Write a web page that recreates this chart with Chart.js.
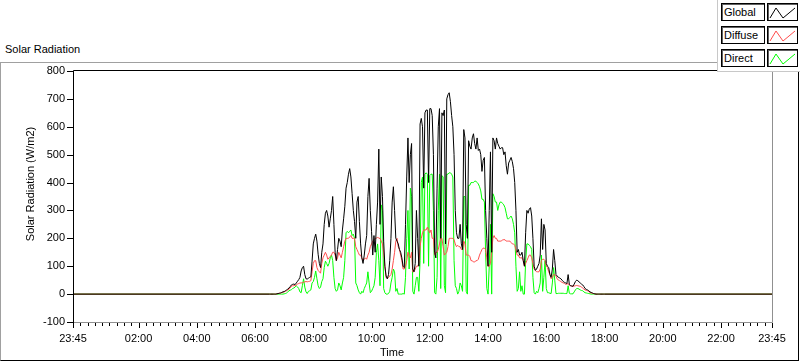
<!DOCTYPE html>
<html>
<head>
<meta charset="utf-8">
<title>Solar Radiation</title>
<script src="https://cdn.jsdelivr.net/npm/chart.js@4.4.1/dist/chart.umd.min.js"></script>
<style>
  html, body { margin: 0; padding: 0; background: #fff; }
  body { width: 800px; height: 361px; position: relative; overflow: hidden;
         font: 11px "Liberation Sans", Arial, sans-serif; color: #000; }
  #frame { position: absolute; left: 0; top: 62px; width: 797px; height: 297px;
           border-top: 1px solid #a0a0a0; border-left: 1px solid #a0a0a0;
           border-right: 1px solid #000; border-bottom: 1px solid #000; }
  #caption { position: absolute; left: 5px; top: 43px; white-space: nowrap; }
  #chart { position: absolute; left: 0; top: 0; }
  #legend { position: absolute; left: 717px; top: 0; width: 83px; height: 71px; background: #fff;
            border-left: 1px solid #c8c8c8; border-bottom: 1px solid #c8c8c8; }
  .name, .icon { position: absolute; height: 16px; border: 1px solid #000; background: #fff;
                 box-shadow: inset 1px 1px 0 #606060; box-sizing: content-box; }
  .name { left: 3px; width: 40px; line-height: 16px; padding-left: 2px; }
  .icon { left: 49px; width: 29px; }
  .icon svg { display: block; }
</style>
</head>
<body>
<div id="frame"></div>
<div id="caption">Solar Radiation</div>
<canvas id="chart" width="800" height="361"></canvas>
<div id="legend"></div>
<script>
const FONT = '"Liberation Sans", Arial, sans-serif';

// readings every 2.5 minutes from 06:30 to 18:00 (W/m2), night is 0
const sampleStart = 6.5;
const sampleStep = 2.5;

const globalRad = [
  0, 0, 0, 0, 0, 0, 1, 2, 3, 4,
  6, 8, 9, 12, 15, 18, 22, 27, 33, 35,
  36, 34, 40, 46, 52, 60, 83, 95, 100, 70,
  55, 54, 57, 60, 62, 118, 180, 200, 215, 190,
  143, 110, 95, 150, 180, 250, 290, 300, 280, 240,
  270, 300, 350, 250, 150, 120, 160, 200, 190, 170,
  230, 270, 315, 380, 400, 430, 450, 420, 360, 300,
  260, 200, 330, 350, 260, 180, 130, 110, 140, 180,
  210, 350, 415, 300, 225, 140, 210, 150, 250, 330,
  520, 250, 420, 350, 190, 100, 65, 55, 70, 120,
  200, 330, 385, 300, 200, 190, 180, 160, 150, 130,
  100, 95, 250, 420, 560, 400, 500, 540, 90, 80,
  110, 300, 200, 100, 610, 630, 600, 380, 650, 660,
  660, 400, 665, 665, 640, 500, 150, 130, 380, 600,
  665, 200, 650, 640, 660, 180, 700, 715, 722, 690,
  640, 600, 500, 300, 220, 200, 200, 250, 180, 160,
  590, 560, 250, 200, 550, 530, 520, 560, 575, 540,
  520, 560, 515, 520, 500, 440, 480, 490, 300, 200,
  100, 300, 510, 150, 560, 550, 520, 560, 540, 530,
  520, 525, 525, 500, 510, 460, 430, 470, 480, 490,
  475, 450, 400, 300, 150, 160, 140, 140, 150, 120,
  100, 220, 300, 290, 305, 310, 280, 200, 100, 85,
  90, 100, 110, 140, 270, 160, 250, 230, 110, 100,
  95, 70, 60, 90, 160, 120, 70, 65, 60, 58,
  55, 50, 45, 42, 40, 38, 70, 35, 30, 29,
  28, 36, 45, 50, 48, 44, 40, 36, 33, 27,
  20, 17, 15, 12, 8, 6, 4, 2, 1, 0,
  0, 0, 0, 0, 0, 0, 0
];
const diffuseRad = [
  0, 0, 0, 0, 0, 0, 1, 2, 3, 4,
  5, 7, 8, 10, 12, 15, 18, 22, 28, 30,
  30, 31, 33, 36, 38, 40, 40, 41, 42, 44,
  45, 44, 45, 46, 48, 80, 110, 120, 120, 95,
  85, 80, 75, 110, 130, 140, 150, 140, 125, 130,
  135, 140, 150, 150, 140, 120, 130, 150, 140, 130,
  150, 170, 190, 200, 200, 200, 205, 210, 200, 200,
  200, 170, 160, 150, 140, 140, 130, 120, 125, 130,
  125, 140, 150, 170, 180, 190, 195, 200, 200, 205,
  200, 200, 190, 180, 150, 100, 60, 55, 60, 65,
  70, 90, 120, 150, 190, 200, 170, 160, 140, 120,
  90, 90, 100, 120, 150, 140, 130, 150, 80, 80,
  90, 100, 100, 110, 170, 200, 220, 230, 230, 230,
  240, 230, 220, 230, 200, 200, 140, 150, 150, 160,
  180, 200, 200, 170, 140, 145, 150, 170, 200, 200,
  200, 200, 195, 180, 170, 175, 170, 170, 160, 160,
  190, 180, 140, 140, 140, 135, 120, 120, 115, 115,
  120, 120, 125, 140, 150, 160, 165, 165, 160, 130,
  100, 100, 110, 150, 200, 210, 200, 200, 190, 190,
  190, 190, 195, 195, 195, 190, 190, 190, 190, 185,
  180, 180, 175, 160, 140, 140, 130, 130, 130, 120,
  100, 110, 120, 130, 140, 140, 130, 110, 90, 85,
  80, 80, 80, 90, 120, 125, 125, 120, 100, 95,
  80, 70, 55, 60, 70, 70, 65, 55, 50, 48,
  45, 42, 40, 38, 35, 36, 38, 32, 30, 29,
  28, 29, 30, 31, 30, 29, 28, 25, 22, 18,
  15, 13, 12, 9, 6, 4, 3, 2, 1, 0,
  0, 0, 0, 0, 0, 0, 0
];
const directRad = [
  0, 0, 0, 0, 0, 0, 0, 0, 0, 0,
  0, 0, 1, 2, 4, 8, 12, 14, 16, 20,
  22, 25, 30, 26, 20, 8, 5, 30, 55, 25,
  8, 2, 10, 12, 15, 40, 45, 60, 83, 55,
  30, 20, 25, 45, 55, 95, 118, 110, 100, 110,
  130, 140, 120, 60, 20, 10, 15, 40, 30, 15,
  40, 60, 120, 220, 225, 220, 225, 230, 210, 215,
  200, 40, 30, 15, 5, 0, 10, 5, 20, 30,
  40, 80, 40, 5, 10, 20, 30, 60, 150, 180,
  120, 30, 320, 300, 20, 5, 0, 0, 2, 10,
  40, 60, 90, 80, 10, 20, 0, 0, 0, 0,
  2, 0, 60, 200, 300, 90, 380, 350, 10, 0,
  30, 60, 60, 10, 120, 400, 420, 110, 430, 435,
  430, 100, 425, 430, 430, 300, 5, 0, 60, 300,
  430, 20, 425, 420, 30, 5, 430, 430, 435, 435,
  430, 420, 120, 30, 20, 0, 10, 40, 30, 10,
  350, 350, 10, 0, 390, 390, 400, 400, 400, 405,
  405, 400, 395, 385, 370, 340, 340, 330, 150, 20,
  0, 100, 250, 0, 360, 350, 330, 330, 300, 320,
  330, 330, 325, 320, 310, 290, 270, 270, 275, 280,
  270, 250, 220, 100, 10, 20, 80, 10, 30, 0,
  0, 120, 180, 180, 175, 170, 160, 60, 5, 0,
  10, 5, 20, 40, 140, 10, 60, 120, 20, 5,
  5, 3, 2, 40, 95, 50, 2, 2, 3, 3,
  3, 3, 3, 2, 2, 2, 30, 3, 1, 1,
  1, 8, 15, 20, 20, 18, 15, 13, 12, 8,
  5, 4, 3, 2, 1, 0, 0, 0, 0, 0,
  0, 0, 0, 0, 0, 0, 0
];

const seriesNames = ['Global', 'Diffuse', 'Direct'];
const seriesColors = ['#000000', '#ff4d4d', '#00ff00'];

const timeMin = -0.25;
const timeMax = 23.75;
const timeTicks = [-0.25, 2, 4, 6, 8, 10, 12, 14, 16, 18, 20, 22, 23.75];
const timeTickLabels = ['23:45', '02:00', '04:00', '06:00', '08:00', '10:00', '12:00',
                        '14:00', '16:00', '18:00', '20:00', '22:00', '23:45'];
const radTicks = [-100, 0, 100, 200, 300, 400, 500, 600, 700, 800];

function toPoints(values) {
  const pts = values.map((v, i) => ({ x: sampleStart + i * sampleStep / 60, y: v }));
  return [{ x: timeMin, y: 0 }, ...pts, { x: timeMax, y: 0 }];
}

// plot frame, tick marks and axis titles in the LabVIEW style
const axisDecor = {
  id: 'axisDecor',
  afterDraw(chart) {
    const { ctx, chartArea: a, scales: { x, y } } = chart;
    const line = (x1, y1, x2, y2) => {
      ctx.beginPath(); ctx.moveTo(x1, y1); ctx.lineTo(x2, y2); ctx.stroke();
    };
    ctx.save();
    ctx.lineWidth = 1;
    ctx.strokeStyle = '#909090';
    line(a.left, a.bottom + 0.5, a.right + 0.5, a.bottom + 0.5);
    line(a.right + 0.5, a.bottom + 0.5, a.right + 0.5, a.top - 0.5);
    ctx.strokeStyle = '#000';
    line(a.left + 0.5, a.bottom + 1, a.left + 0.5, a.top - 0.5);
    line(a.left + 0.5, a.top - 0.5, a.right + 0.5, a.top - 0.5);

    radTicks.forEach(v => {
      const py = Math.round(y.getPixelForValue(v)) + 0.5;
      line(a.left - 6, py, a.left, py);
    });
    for (let t = timeMin; t <= timeMax + 1e-6; t += 0.25) {
      const major = timeTicks.some(m => Math.abs(m - t) < 1e-6);
      const px = Math.round(x.getPixelForValue(t)) + 0.5;
      line(px, a.bottom + 1, px, a.bottom + (major ? 6 : 4));
    }

    ctx.fillStyle = '#000';
    ctx.font = '11px ' + FONT;
    ctx.textAlign = 'center';
    ctx.textBaseline = 'middle';
    ctx.fillText('Time', 392, 353);
    ctx.translate(31, 184);
    ctx.rotate(-Math.PI / 2);
    ctx.fillText('Solar Radiation (W/m2)', 0, 0);
    ctx.restore();
  }
};

function buildLegend() {
  const legend = document.getElementById('legend');
  seriesNames.forEach((name, i) => {
    const top = 3 + i * 23;
    const label = document.createElement('div');
    label.className = 'name';
    label.style.top = top + 'px';
    label.textContent = name;
    const icon = document.createElement('div');
    icon.className = 'icon';
    icon.style.top = top + 'px';
    icon.innerHTML = '<svg width="29" height="16"><polyline points="2,14 8,4 15,14 27,4" ' +
      'fill="none" stroke="' + seriesColors[i] + '" stroke-width="1"/></svg>';
    legend.appendChild(label);
    legend.appendChild(icon);
  });
}

window.addEventListener('DOMContentLoaded', function () {
  buildLegend();

  const series = [globalRad, diffuseRad, directRad];
  const data = {
    datasets: series.map((values, i) => ({
      label: seriesNames[i],
      data: toPoints(values),
      borderColor: seriesColors[i],
      borderWidth: 1,
      pointRadius: 0,
      tension: 0,
      fill: false,
    })),
  };

  const config = {
    type: 'line',
    data,
    options: {
      responsive: false,
      animation: false,
      events: [],
      layout: { padding: { left: 0, top: 71, right: 28, bottom: 0 } },
      plugins: { legend: { display: false }, tooltip: { enabled: false } },
      scales: {
        x: {
          type: 'linear',
          min: timeMin,
          max: timeMax,
          afterFit(scale) { scale.height = 39; },
          afterBuildTicks(scale) { scale.ticks = timeTicks.map(v => ({ value: v })); },
          ticks: {
            autoSkip: false, maxRotation: 0, padding: 10, color: '#000',
            font: { family: FONT, size: 11 },
            callback: (v, i) => timeTickLabels[i],
          },
          grid: { display: false, drawTicks: false },
          border: { display: false },
        },
        y: {
          min: -100,
          max: 800,
          afterFit(scale) { scale.width = 73; },
          afterBuildTicks(scale) { scale.ticks = radTicks.map(v => ({ value: v })); },
          ticks: { padding: 8, color: '#000', font: { family: FONT, size: 11 } },
          grid: { display: false, drawTicks: false },
          border: { display: false },
        },
      },
    },
    plugins: [axisDecor],
  };

  new Chart(document.getElementById('chart'), config);
});
</script>
</body>
</html>
